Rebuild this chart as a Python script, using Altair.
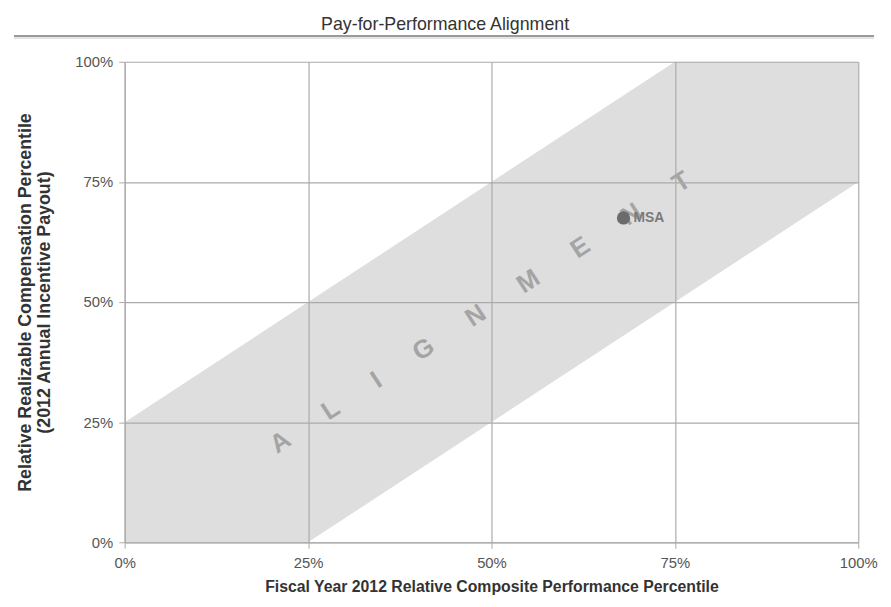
import altair as alt
import pandas as pd

# Band (alignment zone)
band_x = [0, 25, 75, 100]
band_low = [0, 0, 50, 75]
band_high = [25, 50, 100, 100]

# Company point
pt_x = [68]
pt_y = [67.5]
pt_label = ["MSA"]

# Watermark word
word = "ALIGNMENT"
word_x = [48.5]
word_y = [47.8]

ticks = [0, 25, 50, 75, 100]

band_df = pd.DataFrame({"x": band_x, "lo": band_low, "hi": band_high})
pt_df = pd.DataFrame({"x": pt_x, "y": pt_y, "label": pt_label})
sp = "\u00a0" * 6
word_df = pd.DataFrame({"x": word_x, "y": word_y, "t": [sp.join(list(word))]})

xscale = alt.Scale(domain=[0, 100], nice=False)
yscale = alt.Scale(domain=[0, 100], nice=False)

xaxis = alt.Axis(values=ticks, labelExpr="datum.value + '%'", title="Fiscal Year 2012 Relative Composite Performance Percentile",
                 grid=True, tickSize=6, labelPadding=8, titlePadding=8, labelFlush=False, zindex=1)
yaxis = alt.Axis(values=ticks, labelExpr="datum.value + '%'",
                 title=["Relative Realizable Compensation Percentile", "(2012 Annual Incentive Payout)"],
                 grid=True, tickSize=6, labelPadding=6, titlePadding=22, zindex=1)

band = alt.Chart(band_df).mark_area(color="#dedede", opacity=1).encode(
    x=alt.X("x:Q", scale=xscale, axis=xaxis),
    y=alt.Y("lo:Q", scale=yscale, axis=yaxis),
    y2="hi:Q",
)

wordmark = alt.Chart(word_df).mark_text(
    angle=327, fontSize=26, color="#a4a4a4", font="Liberation Sans", fontWeight="bold"
).encode(x="x:Q", y="y:Q", text="t:N")

point = alt.Chart(pt_df).mark_circle(size=180, color="#6b6b6b", opacity=1).encode(x="x:Q", y="y:Q")
label = alt.Chart(pt_df).mark_text(align="left", dx=10, fontSize=14, fontWeight="bold", color="#7a7a7a",
                                   font="Liberation Sans").encode(x="x:Q", y="y:Q", text="label:N")

line1 = alt.Chart(pt_df).mark_rule(color="#9a9a9a", strokeWidth=2).encode(
    x=alt.value(-112), x2=alt.value(758), y=alt.value(-26))
line2 = alt.Chart(pt_df).mark_rule(color="#c8c8c8", strokeWidth=1).encode(
    x=alt.value(-112), x2=alt.value(758), y=alt.value(-24))

chart = alt.layer(band, wordmark, point, label, line1, line2).properties(
    width=742, height=486,
    title=alt.TitleParams("Pay-for-Performance Alignment", fontSize=18, fontWeight="normal",
                          color="#333333", font="Liberation Sans", anchor="middle", frame="bounds", offset=1),
).configure_view(stroke=None).configure_axis(
    gridColor="#aaaaaa", gridWidth=1.2, domainColor="#aaaaaa", tickColor="#aaaaaa",
    labelColor="#555555", labelFont="Liberation Sans", labelFontSize=15,
    titleColor="#333333", titleFont="Liberation Sans", titleFontSize=16, titleFontWeight="bold",
).configure_axisY(titleFontSize=18, titleLineHeight=19)

chart.save("out.html", embed_options={"renderer": "svg", "actions": False})
